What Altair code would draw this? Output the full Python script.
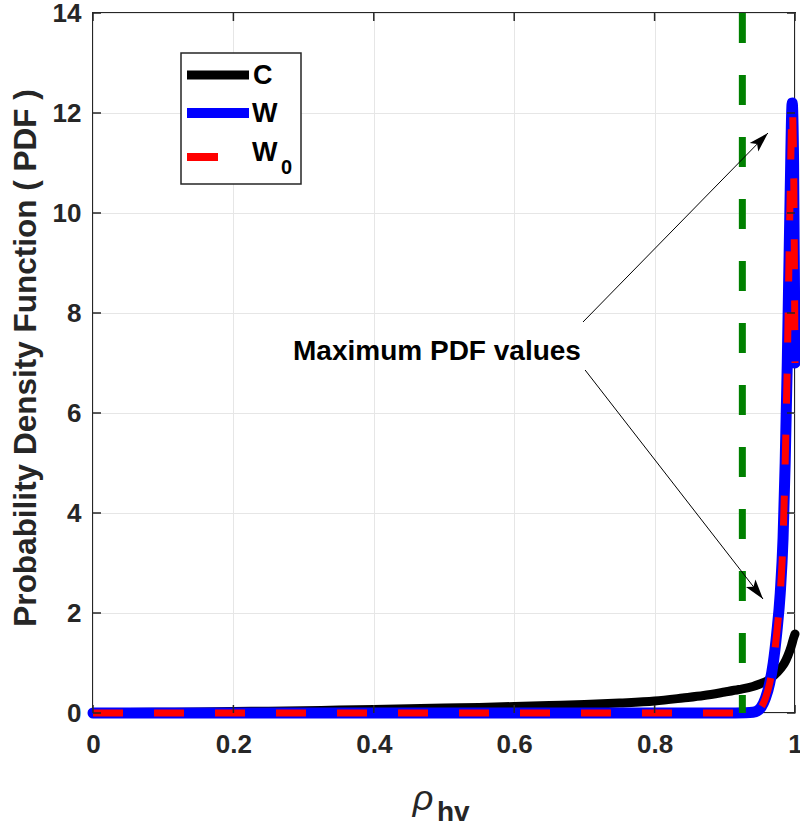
import math
import altair as alt
import pandas as pd

# ---- data ----
c_x = [0.0, 0.05, 0.1, 0.15, 0.2, 0.25, 0.3, 0.35, 0.4, 0.45, 0.5, 0.55, 0.6, 0.65, 0.7,
       0.75, 0.8, 0.84, 0.87, 0.9, 0.92, 0.94, 0.95, 0.96, 0.97, 0.98, 0.985, 0.99, 0.995, 0.998, 1.0]
c_y = [0.0, 0.01, 0.015, 0.02, 0.03, 0.035, 0.045, 0.06, 0.07, 0.085, 0.1, 0.11, 0.13, 0.15, 0.17,
       0.2, 0.24, 0.3, 0.35, 0.42, 0.47, 0.53, 0.58, 0.64, 0.75, 0.9, 1.0, 1.15, 1.35, 1.5, 1.58]

w_x = [0.0, 0.25, 0.5, 0.75, 0.9, 0.93, 0.94, 0.946, 0.952, 0.958, 0.964, 0.969, 0.974, 0.979,
       0.983, 0.986, 0.989, 0.993, 0.996, 0.998, 1.0]
w_y = [0.0, 0.0, 0.0, 0.0, 0.0, 0.005, 0.015, 0.04, 0.12, 0.3, 0.6, 1.0, 1.6, 2.4,
       3.5, 5.0, 7.0, 10.3, 12.2, 11.0, 7.0]

w0_x = [0.0, 0.25, 0.5, 0.75, 0.9, 0.93, 0.94, 0.946, 0.952, 0.958, 0.964, 0.969, 0.974, 0.979,
        0.983, 0.986, 0.989, 0.993, 0.996, 0.998, 1.0]
w0_y = [0.0, 0.0, 0.0, 0.0, 0.0, 0.005, 0.015, 0.04, 0.12, 0.3, 0.6, 1.0, 1.6, 2.4,
        3.5, 5.0, 7.0, 10.3, 12.1, 11.0, 7.0]

threshold_x = [0.925]

x_ticks = [0, 0.2, 0.4, 0.6, 0.8, 1.0]
y_ticks = [0, 2, 4, 6, 8, 10, 12, 14]

annot_text = "Maximum PDF values"
annot_x = [0.49]
annot_y = [7.22]

arrow_start_x = [0.698, 0.701]
arrow_start_y = [7.82, 6.86]
arrow_end_x = [0.9615, 0.9544]
arrow_end_y = [11.6, 2.28]

legend_labels = ["C", "W", "W", "0"]

# ---- layout ----
W, H = 702, 700
PX_X = W / 1.0
PX_Y = H / 14.0
FONT = "Liberation Sans"
DARK = "#262626"

x_scale = alt.Scale(domain=[0, 1], nice=False, zero=False)
y_scale = alt.Scale(domain=[0, 14], nice=False, zero=False)

x_axis = alt.Axis(values=x_ticks, format="~g", grid=True, gridColor="#e6e6e6", gridWidth=1,
                  tickSize=0, domain=False, labelFont=FONT, labelFontWeight="bold",
                  labelFontSize=26, labelColor=DARK, labelPadding=18, labelFlush=False,
                  labelOverlap=False, title="")
y_axis = alt.Axis(values=y_ticks, grid=True, gridColor="#e6e6e6", gridWidth=1,
                  tickSize=0, domain=False, labelFont=FONT, labelFontWeight="bold",
                  labelFontSize=26, labelColor=DARK, labelPadding=12, labelFlush=False,
                  labelOverlap=False, title="")

x_enc = alt.X("x:Q", scale=x_scale, axis=x_axis)
y_enc = alt.Y("y:Q", scale=y_scale, axis=y_axis)

df_c = pd.DataFrame({"x": c_x, "y": c_y})
df_w = pd.DataFrame({"x": w_x, "y": w_y})
df_w0 = pd.DataFrame({"x": w0_x, "y": w0_y})

line_c = alt.Chart(df_c).mark_line(color="#000000", strokeWidth=9, strokeCap="round",
                                   strokeJoin="round", interpolate="monotone").encode(x=x_enc, y=y_enc)
line_w = alt.Chart(df_w).mark_line(color="#0000FF", strokeWidth=11, strokeCap="round",
                                   strokeJoin="round", interpolate="monotone").encode(x=x_enc, y=y_enc)
line_w0 = alt.Chart(df_w0).mark_line(color="#FF0000", strokeWidth=7, strokeDash=[30, 31],
                                     interpolate="monotone").encode(x=x_enc, y=y_enc)

green = alt.Chart(pd.DataFrame({"x": threshold_x})).mark_rule(
    color="#008000", strokeWidth=7, strokeDash=[30, 32]
).encode(x=x_enc, y=alt.value(0), y2=alt.value(H))

# inward ticks on all four sides
df_yt = pd.DataFrame({"y": y_ticks})
df_xt = pd.DataFrame({"x": x_ticks})
tick_style = dict(color=DARK, strokeWidth=1.5)
yt_left = alt.Chart(df_yt).mark_rule(**tick_style).encode(y=y_enc, x=alt.value(0), x2=alt.value(8))
yt_right = alt.Chart(df_yt).mark_rule(**tick_style).encode(y=y_enc, x=alt.value(W - 8), x2=alt.value(W))
xt_bottom = alt.Chart(df_xt).mark_rule(**tick_style).encode(x=x_enc, y=alt.value(H - 8), y2=alt.value(H))
xt_top = alt.Chart(df_xt).mark_rule(**tick_style).encode(x=x_enc, y=alt.value(0), y2=alt.value(8))

# annotation
df_annot = pd.DataFrame({"x": annot_x, "y": annot_y, "t": [annot_text]})
annot = alt.Chart(df_annot).mark_text(font=FONT, fontWeight="bold", fontSize=28, color="#000000",
                                      align="center", baseline="middle").encode(
    x=x_enc, y=y_enc, text="t:N")

angles = [math.degrees(math.atan2((ex - sx) * PX_X, (ey - sy) * PX_Y))
          for sx, sy, ex, ey in zip(arrow_start_x, arrow_start_y, arrow_end_x, arrow_end_y)]
df_arrows = pd.DataFrame({"x": arrow_start_x, "y": arrow_start_y,
                          "x2": arrow_end_x, "y2": arrow_end_y, "angle": angles})
arrow_lines = alt.Chart(df_arrows).mark_rule(color="#000000", strokeWidth=1).encode(
    x=x_enc, y=y_enc, x2="x2:Q", y2="y2:Q")
arrow_heads = alt.Chart(df_arrows).mark_point(
    shape="M0,0L0.6,2L0,1.55L-0.6,2Z", filled=True, size=400, color="#000000",
    opacity=1, strokeWidth=0
).encode(x=alt.X("x2:Q", scale=x_scale, axis=x_axis), y=alt.Y("y2:Q", scale=y_scale, axis=y_axis),
         angle=alt.Angle("angle:Q", scale=None))

# legend (layout in pixels)
one = pd.DataFrame({"k": [0]})
leg_box = alt.Chart(one).mark_rect(fill="white", stroke=DARK, strokeWidth=1.5).encode(
    x=alt.value(88), x2=alt.value(208), y=alt.value(40), y2=alt.value(171))
leg_c = alt.Chart(one).mark_rule(color="#000000", strokeWidth=9).encode(
    x=alt.value(94), x2=alt.value(156), y=alt.value(62))
leg_w = alt.Chart(one).mark_rule(color="#0000FF", strokeWidth=10).encode(
    x=alt.value(94), x2=alt.value(156), y=alt.value(100))
leg_w0 = alt.Chart(one).mark_rule(color="#FF0000", strokeWidth=8).encode(
    x=alt.value(94), x2=alt.value(125), y=alt.value(144))
leg_txt_style = dict(font=FONT, fontWeight="bold", fontSize=27, color="#000000",
                     align="left", baseline="middle")
leg_t1 = alt.Chart(one).mark_text(text=legend_labels[0], **leg_txt_style).encode(
    x=alt.value(160), y=alt.value(63))
leg_t2 = alt.Chart(one).mark_text(text=legend_labels[1], **leg_txt_style).encode(
    x=alt.value(159), y=alt.value(101))
leg_t3 = alt.Chart(one).mark_text(text=legend_labels[2], **leg_txt_style).encode(
    x=alt.value(159), y=alt.value(140))
leg_t4 = alt.Chart(one).mark_text(text=legend_labels[3], font=FONT, fontWeight="bold", fontSize=20,
                                  color="#000000", align="left", baseline="middle").encode(
    x=alt.value(188), y=alt.value(155))

# axis titles
y_title = alt.Chart(one).mark_text(text="Probability Density Function ( PDF )", font=FONT,
                                   fontWeight="bold", fontSize=31.5, color=DARK, angle=270,
                                   align="center", baseline="middle").encode(
    x=alt.value(-66), y=alt.value(345))
x_title_rho = alt.Chart(one).mark_text(text="ρ", font=FONT, fontStyle="italic", fontSize=36,
                                       color=DARK, align="center", baseline="middle").encode(
    x=alt.value(330), y=alt.value(786))
x_title_hv = alt.Chart(one).mark_text(text="hv", font=FONT, fontWeight="bold", fontSize=28,
                                      color=DARK, align="left", baseline="middle").encode(
    x=alt.value(344), y=alt.value(800))

chart = alt.layer(
    line_c, line_w, line_w0, green,
    yt_left, yt_right, xt_bottom, xt_top,
    arrow_lines, arrow_heads, annot,
    leg_box, leg_c, leg_w, leg_w0, leg_t1, leg_t2, leg_t3, leg_t4,
    y_title, x_title_rho, x_title_hv,
).properties(
    width=W, height=H, autosize="none",
    padding={"left": 93, "top": 13, "right": 5, "bottom": 121},
    background="white",
).configure_view(stroke=DARK, strokeWidth=2)

chart.save("out.html", embed_options={"renderer": "svg", "actions": False})
